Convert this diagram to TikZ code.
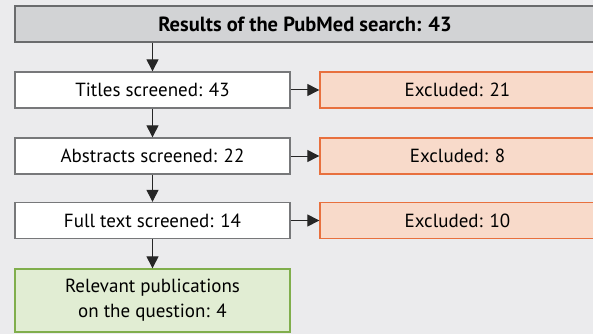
\documentclass[tikz,border=0pt]{standalone}
\usepackage{fontspec}
\setmainfont{PT Sans}
\usetikzlibrary{arrows.meta, positioning}
\definecolor{bggray}{HTML}{EBEBED}
\definecolor{headfill}{HTML}{D2D3D5}
\definecolor{headline}{HTML}{6A6B6D}
\definecolor{boxline}{HTML}{77787A}
\definecolor{exfill}{HTML}{F8DACA}
\definecolor{exline}{HTML}{E8703E}
\definecolor{relfill}{HTML}{E1EDD3}
\definecolor{relline}{HTML}{80AE4C}

\begin{document}
\begin{tikzpicture}[x=1pt, y=-1pt, line cap=butt,
	font=\fontsize{19}{25}\selectfont,
	screenbox/.style={draw=boxline, line width=1.3pt, fill=white, minimum width=275pt, minimum height=36pt, inner sep=0pt},
	exclbox/.style={draw=exline, line width=1.3pt, fill=exfill, minimum width=275pt, minimum height=36pt, inner sep=0pt},
	arr/.style={draw=black!85, line width=1pt, -{Triangle[length=12pt, width=12pt]}}]
	
	% ===== canvas =====
	\fill[bggray] (0,0) rectangle (593,334);
	\useasboundingbox (0,0) rectangle (593,334);
	\clip (0,0) rectangle (593,334);
	
	% ===== search result =====
	\node[draw=headline, line width=1.3pt, fill=headfill, minimum width=580pt, minimum height=36pt, inner sep=0pt, font=\fontsize{20.5}{25}\selectfont\bfseries]
	(search) at (305,24) {Results of the PubMed search: 43};
	
	% ===== screening steps (left) =====
	\node[screenbox] (titles) at (152.5,90) {Titles screened: 43};
	\node[screenbox] (abstracts) at (152.5,156) {Abstracts screened: 22};
	\node[screenbox] (fulltext) at (152.5,220.5) {Full text screened: 14};
	\node[draw=relline, line width=1.3pt, fill=relfill, minimum width=275pt, minimum height=63pt, inner sep=0pt, align=center]
	(relevant) at (152.5,300.5) {Relevant publications\\on the question: 4};
	
	% ===== exclusions (right) =====
	\node[exclbox] (excl1) at (457.5,90) {Excluded: 21};
	\node[exclbox] (excl2) at (457.5,156) {Excluded: 8};
	\node[exclbox] (excl3) at (457.5,220.5) {Excluded: 10};
	
	% ===== connectors =====
	\draw[arr] (titles.north |- search.south) -- (titles.north);
	\draw[arr] (titles) -- (abstracts);
	\draw[arr] (abstracts) -- (fulltext);
	\draw[arr] (fulltext) -- (relevant);
	\foreach \s/\e in {titles/excl1, abstracts/excl2, fulltext/excl3}
		\draw[arr] (\s) -- (\e);
	
\end{tikzpicture}
\end{document}
